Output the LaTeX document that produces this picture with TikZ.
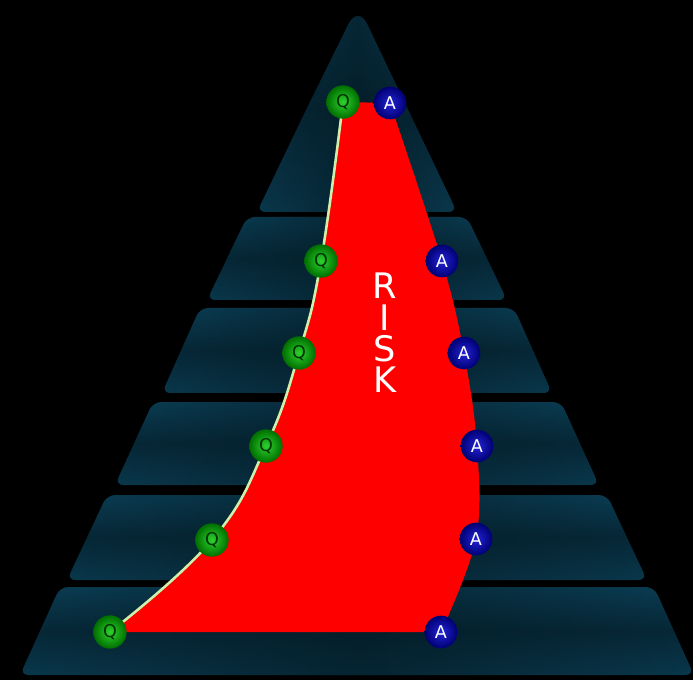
\documentclass[tikz,border=0pt]{standalone}
\usepackage{fontspec}
\setsansfont{DejaVu Sans}
\usetikzlibrary{backgrounds,fadings}

\definecolor{layerteal}{RGB}{11,62,84}
\definecolor{layerdark}{RGB}{3,22,31}
\definecolor{riskred}{RGB}{255,0,0}
\definecolor{qgreen}{RGB}{45,210,45}
\definecolor{qgreendark}{RGB}{0,110,0}
\definecolor{ablue}{RGB}{35,35,215}
\definecolor{abluedark}{RGB}{0,0,115}
\definecolor{qlinecol}{RGB}{205,240,170}

\tikzfading[name=midfade, left color=transparent!100, right color=transparent!100, middle color=transparent!45]

\begin{document}
\begin{tikzpicture}[
    x=0.03cm, y=-0.03cm,
    qball/.style={
        circle, minimum size=1cm, inner sep=0pt,
        shading=radial, inner color=qgreen, outer color=qgreendark,
        text=black!80!green, font=\sffamily\fontsize{15}{15}\selectfont
    },
    aball/.style={
        circle, minimum size=0.98cm, inner sep=0pt,
        shading=radial, inner color=ablue, outer color=abluedark,
        text=white, font=\sffamily\fontsize{15}{15}\selectfont
    },
    risktext/.style={
        align=center, text=white, inner sep=0pt,
        font=\sffamily\fontsize{30}{26.8}\selectfont
    },
    layer/.style={
        top color=layerteal, bottom color=layerteal!90!black,
        middle color=layerteal!45!layerdark
    },
    qlink/.style={qlinecol, line width=2.2pt}
  ]

  \useasboundingbox (0,0) rectangle (693,680);

  % question balls on the left
  \node[qball] (q1) at (110,632) {Q};
  \node[qball] (q2) at (212,540) {Q};
  \node[qball] (q3) at (266,446) {Q};
  \node[qball] (q4) at (299,353) {Q};
  \node[qball] (q5) at (321,261) {Q};
  \node[qball] (q6) at (343,102) {Q};

  % answer balls on the right
  \node[aball] (a1) at (390,103) {A};
  \node[aball] (a2) at (442,261) {A};
  \node[aball] (a3) at (464,353) {A};
  \node[aball] (a4) at (477,446) {A};
  \node[aball] (a5) at (476,539) {A};
  \node[aball] (a6) at (441,632) {A};

  \node[risktext] (risk) at (385,333) {R\\I\\S\\K};

  \begin{pgfonlayer}{background}
    \fill[black] (0,0) rectangle (693,680);

    % pyramid, top piece
    \shade[layer] (307,108) [rounded corners=18pt] -- (358,5)
      [rounded corners=7pt] -- (457,212) -- (257,212) -- cycle;
    \fill[layerdark, path fading=midfade] (307,108) [rounded corners=18pt] -- (358,5)
      [rounded corners=7pt] -- (457,212) -- (257,212) -- cycle;

    % pyramid, lower steps
    \foreach \yt/\xt/\yb/\xb in {217/247/300/207, 308/200/393/162, 402/153/485/115,
                                 495/107/580/67, 587/60/675/20}
    {
      \shade[layer, rounded corners=7pt] (357,\yt) -- (714-\xt,\yt) -- (714-\xb,\yb)
        -- (\xb,\yb) -- (\xt,\yt) -- cycle;
      \fill[layerdark, path fading=midfade, rounded corners=7pt] (357,\yt) -- (714-\xt,\yt)
        -- (714-\xb,\yb) -- (\xb,\yb) -- (\xt,\yt) -- cycle;
    }

    % risk area
    \fill[riskred] plot[smooth, tension=0.75] coordinates {(q1.center) (q2.center)
        (q3.center) (q4.center) (q5.center) (q6.center)}
      -- plot[smooth, tension=0.6] coordinates {(a1.center) (a2.center) (a3.center)
        (a4.center) (a5.center) (a6.center)} -- cycle;

    \draw[qlink] plot[smooth, tension=0.75] coordinates {(q1.center) (q2.center)
        (q3.center) (q4.center) (q5.center) (q6.center)};
  \end{pgfonlayer}

\end{tikzpicture}
\end{document}
